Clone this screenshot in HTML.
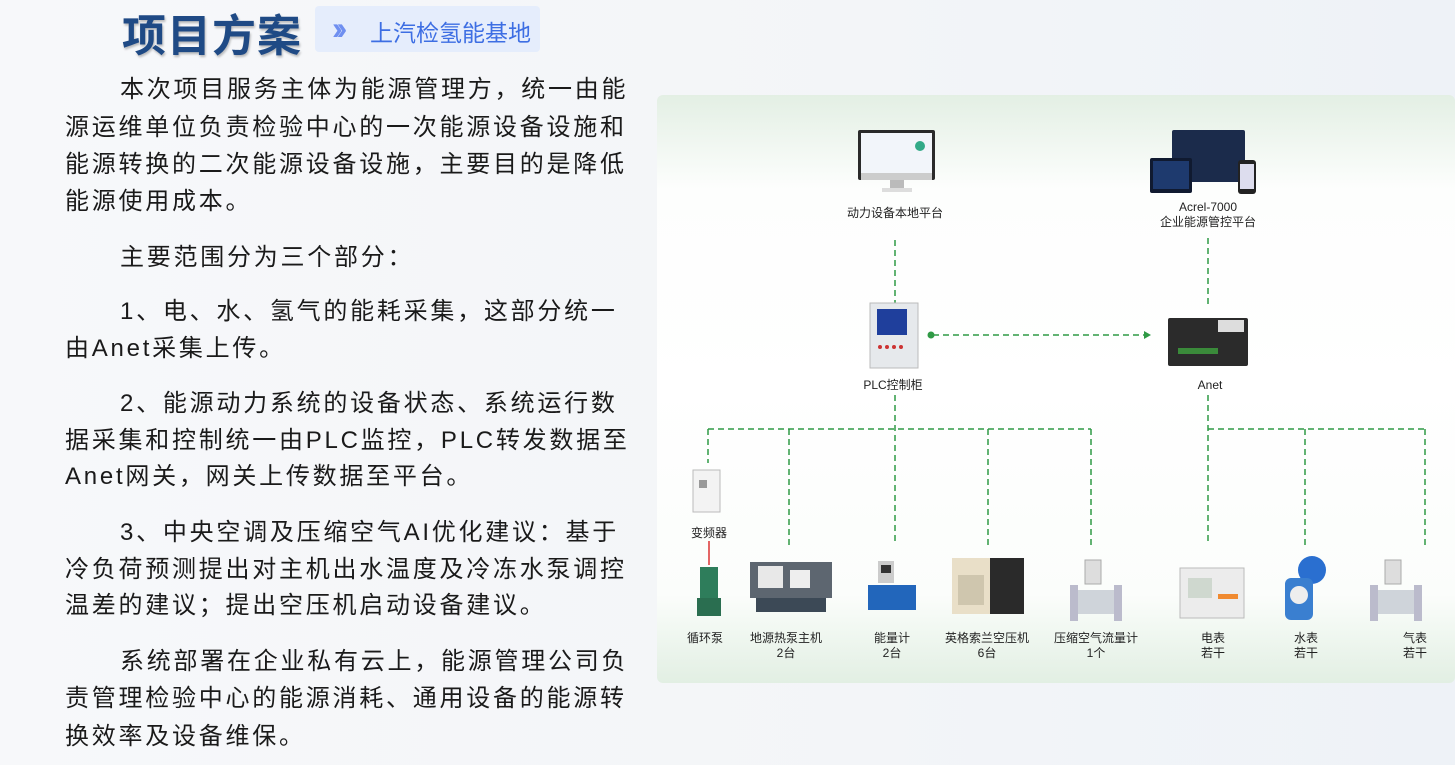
<!DOCTYPE html>
<html><head><meta charset="utf-8"><style>
body{margin:0;width:1455px;height:765px;overflow:hidden;background:linear-gradient(90deg,#f7f8fa 0%,#f3f5f8 60%,#eef2f7 100%);font-family:"Liberation Sans","Noto Sans CJK SC",sans-serif;position:relative}
.t{position:absolute;left:65px;font-size:24px;letter-spacing:2.75px;color:#1a1a1a;white-space:nowrap;line-height:30px}
.l{position:absolute;font-size:12px;color:#222;text-align:center;line-height:15px;transform:translateX(-50%);white-space:nowrap}
</style></head><body>
<div style="position:absolute;left:122px;top:0px;font-size:44px;font-weight:bold;color:#1f4a85;letter-spacing:1px;text-shadow:1px 2px 2px rgba(0,0,0,.25);font-family:'Noto Sans CJK SC',sans-serif">项目方案</div>
<div style="position:absolute;left:315px;top:6px;width:225px;height:46px;background:#e5edfc;border-radius:4px"></div>
<div style="position:absolute;left:332px;top:10px;font-size:32px;font-weight:bold;color:#6f8ff0;letter-spacing:-6px">››</div>
<div style="position:absolute;left:370px;top:14px;font-size:23px;color:#3d6ee3">上汽检氢能基地</div>

<div class="t" style="top:75px;left:120px">本次项目服务主体为能源管理方，统一由能</div>
<div class="t" style="top:113px">源运维单位负责检验中心的一次能源设备设施和</div>
<div class="t" style="top:150px">能源转换的二次能源设备设施，主要目的是降低</div>
<div class="t" style="top:187px">能源使用成本。</div>
<div class="t" style="top:243px;left:120px">主要范围分为三个部分：</div>
<div class="t" style="top:297px;left:120px">1、电、水、氢气的能耗采集，这部分统一</div>
<div class="t" style="top:334px">由Anet采集上传。</div>
<div class="t" style="top:389px;left:120px">2、能源动力系统的设备状态、系统运行数</div>
<div class="t" style="top:426px">据采集和控制统一由PLC监控，PLC转发数据至</div>
<div class="t" style="top:462px">Anet网关，网关上传数据至平台。</div>
<div class="t" style="top:518px;left:120px">3、中央空调及压缩空气AI优化建议：基于</div>
<div class="t" style="top:555px">冷负荷预测提出对主机出水温度及冷冻水泵调控</div>
<div class="t" style="top:591px">温差的建议；提出空压机启动设备建议。</div>
<div class="t" style="top:647px;left:120px">系统部署在企业私有云上，能源管理公司负</div>
<div class="t" style="top:684px">责管理检验中心的能源消耗、通用设备的能源转</div>
<div class="t" style="top:722px">换效率及设备维保。</div>

<div style="position:absolute;left:657px;top:95px;width:798px;height:588px;border-radius:6px;background:linear-gradient(180deg,#e3efe4 0%,#fdfefd 16%,#ffffff 50%,#fbfdfb 85%,#e2efe3 100%)"></div>

<svg width="1455" height="765" style="position:absolute;left:0;top:0">
<g stroke="#2f9a45" stroke-width="1.5" stroke-dasharray="6,4" fill="none">
<line x1="895" y1="240" x2="895" y2="305"/><line x1="1208" y1="238" x2="1208" y2="305"/>
<line x1="933" y1="335" x2="1144" y2="335"/>
<line x1="895" y1="395" x2="895" y2="545"/><line x1="708" y1="429" x2="1091" y2="429"/>
<line x1="708" y1="429" x2="708" y2="463"/><line x1="789" y1="429" x2="789" y2="545"/>
<line x1="988" y1="429" x2="988" y2="545"/><line x1="1091" y1="429" x2="1091" y2="545"/>
<line x1="1208" y1="395" x2="1208" y2="545"/><line x1="1208" y1="429" x2="1425" y2="429"/>
<line x1="1305" y1="429" x2="1305" y2="545"/><line x1="1425" y1="429" x2="1425" y2="545"/>
</g>
<circle cx="931" cy="335" r="3.5" fill="#2f9a45"/>
<path d="M1144 331 L1151 335 L1144 339Z" fill="#2f9a45"/>
<line x1="709" y1="541" x2="709" y2="565" stroke="#d33" stroke-width="1.5"/>
<rect x="858" y="130" width="77" height="50" fill="#2a2a2a" rx="2"/><rect x="861" y="133" width="71" height="40" fill="#f2f5fa"/>
<rect x="861" y="173" width="71" height="7" fill="#ccc"/><rect x="890" y="180" width="14" height="8" fill="#bbb"/><rect x="882" y="188" width="30" height="4" fill="#ddd"/>
<circle cx="920" cy="146" r="5" fill="#3a8"/>
<rect x="1172" y="130" width="73" height="52" fill="#1b2b4b" rx="2"/><rect x="1150" y="158" width="42" height="35" fill="#101a30" rx="2"/><rect x="1153" y="161" width="36" height="28" fill="#1e3a6e"/>
<rect x="1238" y="160" width="18" height="34" fill="#222" rx="3"/><rect x="1240" y="164" width="14" height="25" fill="#dde"/>
<rect x="870" y="303" width="48" height="65" fill="#e6e9ec" stroke="#bbb"/><rect x="877" y="309" width="30" height="26" fill="#1f3f9c"/>
<g fill="#c33"><circle cx="880" cy="347" r="2"/><circle cx="887" cy="347" r="2"/><circle cx="894" cy="347" r="2"/><circle cx="901" cy="347" r="2"/></g>
<rect x="1168" y="318" width="80" height="48" fill="#2b2b2b" rx="2"/><rect x="1218" y="320" width="26" height="12" fill="#ddd"/><rect x="1178" y="348" width="40" height="6" fill="#3a8a3a"/>
<rect x="693" y="470" width="27" height="42" fill="#f3f3f3" stroke="#bbb"/><rect x="699" y="480" width="8" height="8" fill="#999"/>
<rect x="700" y="567" width="18" height="32" fill="#2e7d5b"/><rect x="697" y="598" width="24" height="18" fill="#2a6e50"/>
<rect x="750" y="562" width="82" height="36" fill="#5d6670"/><rect x="756" y="598" width="70" height="14" fill="#3c4956"/><rect x="758" y="566" width="25" height="22" fill="#e8e8e8"/><rect x="790" y="570" width="20" height="18" fill="#eee"/>
<rect x="868" y="585" width="48" height="25" fill="#2266bb"/><rect x="878" y="561" width="16" height="22" fill="#ccc"/><rect x="881" y="565" width="10" height="8" fill="#333"/>
<rect x="952" y="558" width="38" height="56" fill="#e9dfc8"/><rect x="990" y="558" width="34" height="56" fill="#2a2a2a"/><rect x="958" y="575" width="26" height="30" fill="#cfc6ae"/>
<g><rect x="1085" y="560" width="16" height="24" fill="#ddd" stroke="#aaa"/><rect x="1074" y="590" width="44" height="24" fill="#cfd4da"/><rect x="1070" y="585" width="8" height="36" fill="#bbc"/><rect x="1114" y="585" width="8" height="36" fill="#bbc"/></g>
<g transform="translate(300,0)"><rect x="1085" y="560" width="16" height="24" fill="#ddd" stroke="#aaa"/><rect x="1074" y="590" width="44" height="24" fill="#cfd4da"/><rect x="1070" y="585" width="8" height="36" fill="#bbc"/><rect x="1114" y="585" width="8" height="36" fill="#bbc"/></g>
<rect x="1180" y="568" width="64" height="50" fill="#ececec" stroke="#bbb"/><rect x="1188" y="578" width="24" height="20" fill="#cfd8cf"/><rect x="1218" y="594" width="20" height="5" fill="#f08a30"/>
<circle cx="1312" cy="570" r="14" fill="#2a6fd0"/><rect x="1285" y="578" width="28" height="42" fill="#3a7fd0" rx="6"/><circle cx="1299" cy="595" r="9" fill="#eee"/>
</svg>

<div class="l" style="left:895px;top:206px">动力设备本地平台</div>
<div class="l" style="left:1208px;top:200px">Acrel-7000<br>企业能源管控平台</div>
<div class="l" style="left:893px;top:378px">PLC控制柜</div>
<div class="l" style="left:1210px;top:378px">Anet</div>
<div class="l" style="left:709px;top:526px">变频器</div>
<div class="l" style="left:705px;top:631px">循环泵</div>
<div class="l" style="left:786px;top:631px">地源热泵主机<br>2台</div>
<div class="l" style="left:892px;top:631px">能量计<br>2台</div>
<div class="l" style="left:987px;top:631px">英格索兰空压机<br>6台</div>
<div class="l" style="left:1096px;top:631px">压缩空气流量计<br>1个</div>
<div class="l" style="left:1213px;top:631px">电表<br>若干</div>
<div class="l" style="left:1306px;top:631px">水表<br>若干</div>
<div class="l" style="left:1415px;top:631px">气表<br>若干</div>
</body></html>
